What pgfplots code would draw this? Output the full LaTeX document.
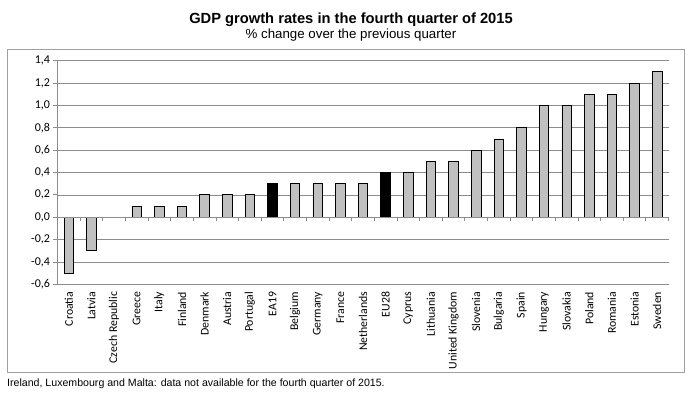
\documentclass[border=0pt]{standalone}
\usepackage{pgfplots}
\pgfplotsset{compat=1.18}
\usepackage{fontspec}
\setmainfont{Liberation Sans}
\newfontfamily\calibri{Carlito}
\definecolor{barfill}{RGB}{192,192,192}
\definecolor{gridc}{RGB}{140,140,140}
\definecolor{framec}{RGB}{160,160,160}
\begin{document}
\begin{tikzpicture}[x=1pt,y=1pt]
\useasboundingbox (0,0) rectangle (699,396);
\draw[framec, line width=0.8pt] (7,24) rectangle (684,347);
\node[font=\fontsize{14.7}{16}\selectfont\bfseries, anchor=base, inner sep=0pt] at (351,372.5) {GDP growth rates in the fourth quarter of 2015};
\node[font=\fontsize{13.3}{15}\selectfont, anchor=base, inner sep=0pt] at (351,357.5) {\% change over the previous quarter};
\node[font=\fontsize{10.6}{12}\selectfont, anchor=base west, inner sep=0pt] at (7,9.3) {Ireland, Luxembourg and Malta: data not available for the fourth quarter of 2015.};
\begin{axis}[at={(57.5pt,111.7pt)}, anchor=south west, scale only axis,
  width=611pt, height=223.6pt,
  xmin=-0.5, xmax=26.5, ymin=-0.6, ymax=1.4,
  axis lines*=left,
  x axis line style={draw=none},
  y axis line style={gridc, line width=0.8pt},
  ymajorgrids, grid style={gridc, line width=0.7pt},
  ytick={-0.6,-0.4,-0.2,0,0.2,0.4,0.6,0.8,1.0,1.2,1.4},
  yticklabel style={font=\calibri\fontsize{12}{14}\selectfont, /pgf/number format/.cd, fixed, fixed zerofill, precision=1, use comma, assume math mode=true},
  ytick style={gridc, line width=0.8pt},
  tick align=outside, major tick length=4pt,
  xtick={0,...,26}, xtick style={draw=none},
  xticklabels={Croatia,Latvia,Czech Republic,Greece,Italy,Finland,Denmark,Austria,Portugal,EA19,Belgium,Germany,France,Netherlands,EU28,Cyprus,Lithuania,United Kingdom,Slovenia,Bulgaria,Spain,Hungary,Slovakia,Poland,Romania,Estonia,Sweden},
  xticklabel style={font=\calibri\fontsize{11.8}{13}\selectfont, rotate=90, anchor=east},
  ybar, bar width=9.5pt,
]
\addplot[bar shift=0pt, fill=barfill, draw=black, line width=0.8pt] coordinates {
(0,-0.5) (1,-0.3) (3,0.1) (4,0.1) (5,0.1) (6,0.2) (7,0.2) (8,0.2)
(10,0.3) (11,0.3) (12,0.3) (13,0.3) (15,0.4) (16,0.5) (17,0.5)
(18,0.6) (19,0.7) (20,0.8) (21,1.0) (22,1.0) (23,1.1) (24,1.1) (25,1.2) (26,1.3)};
\addplot[bar shift=0pt, fill=black, draw=black, line width=0.8pt] coordinates {(9,0.3) (14,0.4)};
\end{axis}
\begin{axis}[at={(57.5pt,111.7pt)}, anchor=south west, scale only axis,
  width=611pt, height=223.6pt,
  xmin=-0.5, xmax=26.5, ymin=-0.6, ymax=1.4,
  axis x line=middle, axis y line=none,
  x axis line style={gridc, line width=0.8pt, -},
  xtick={-0.5,0.5,...,26.5}, xticklabels={},
  xtick style={gridc, line width=0.8pt},
  tick align=outside, major tick length=4pt,
]
\end{axis}
\end{tikzpicture}
\end{document}
